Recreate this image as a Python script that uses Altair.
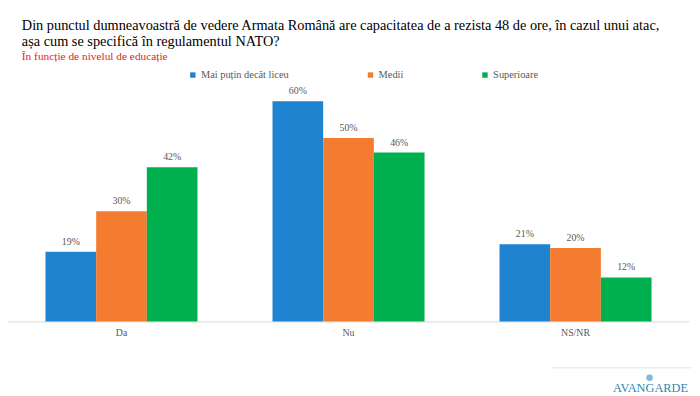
import altair as alt
import pandas as pd

categories = ["Da", "Nu", "NS/NR"]
series = ["Mai puțin decât liceu", "Medii", "Superioare"]
colors = ["#1f83d0", "#f47c30", "#00b04f"]
values = {
    "Mai puțin decât liceu": [19, 60, 21],
    "Medii": [30, 50, 20],
    "Superioare": [42, 46, 12],
}

rows = []
for s in series:
    for c, v in zip(categories, values[s]):
        rows.append({"cat": c, "series": s, "value": v, "label": f"{v}%"})
df = pd.DataFrame(rows)

FONT = "Liberation Serif"

base = alt.Chart(df).encode(
    x=alt.X(
        "cat:N",
        sort=categories,
        title=None,
        scale=alt.Scale(paddingInner=0, paddingOuter=0),
        axis=alt.Axis(
            labelAngle=0,
            ticks=False,
            domainColor="#d9d9d9",
            labelColor="#595959",
            labelFont=FONT,
            labelFontSize=10,
            labelPadding=6,
        ),
    ),
    xOffset=alt.XOffset(
        "series:N", sort=series, scale=alt.Scale(paddingInner=0, paddingOuter=0.74)
    ),
    y=alt.Y("value:Q", scale=alt.Scale(domain=[0, 64]), axis=None),
)

bars = base.mark_bar().encode(
    color=alt.Color(
        "series:N",
        sort=series,
        scale=alt.Scale(domain=series, range=colors),
        legend=alt.Legend(
            title=None,
            orient="none",
            legendX=182,
            legendY=-17,
            direction="horizontal",
            symbolType="square",
            symbolSize=30,
            symbolStrokeWidth=0,
            labelFont=FONT,
            labelFontSize=10.5,
            labelColor="#595959",
            labelOffset=3,
            columnPadding=77,
        ),
    )
)

texts = base.mark_text(
    baseline="bottom", dy=-5, font=FONT, fontSize=10, color="#595959"
).encode(text="label:N")

logo_line = alt.Chart(pd.DataFrame({"a": [0]})).mark_rule(
    color="#dde0e8", strokeWidth=1
).encode(x=alt.value(552), x2=alt.value(692), y=alt.value(285))

logo = alt.Chart(pd.DataFrame({"t": ["AVANGARDE"]})).mark_text(
    font=FONT, fontSize=12.5, color="#2f86b0", align="center", baseline="alphabetic"
).encode(text="t:N", x=alt.value(651), y=alt.value(309))

logo_dot = alt.Chart(pd.DataFrame({"a": [0]})).mark_point(
    filled=True, color="#4a9cc8", size=45, shape="circle"
).encode(x=alt.value(650), y=alt.value(295))

chart = (
    alt.layer(bars, texts, logo_line, logo_dot, logo)
    .properties(
        width=690,
        height=238,
        padding={"left": 0, "top": 8, "right": 0, "bottom": 0},
        title=alt.TitleParams(
            text=[
                "Din punctul dumneavoastră de vedere Armata Română are capacitatea de a rezista 48 de ore, în cazul unui atac,",
                "așa cum se specifică în regulamentul NATO?",
            ],
            subtitle="În funcție de nivelul de educație",
            anchor="start",
            dx=14,
            font=FONT,
            fontSize=14.5,
            fontWeight="normal",
            color="#000000",
            lineHeight=16,
            subtitleFont=FONT,
            subtitleFontSize=11.5,
            subtitleColor="#e8202a",
            subtitlePadding=2,
            offset=6,
        ),
    )
    .configure_view(stroke=None)
)

chart.save("out.html", embed_options={"renderer": "svg", "actions": False})
